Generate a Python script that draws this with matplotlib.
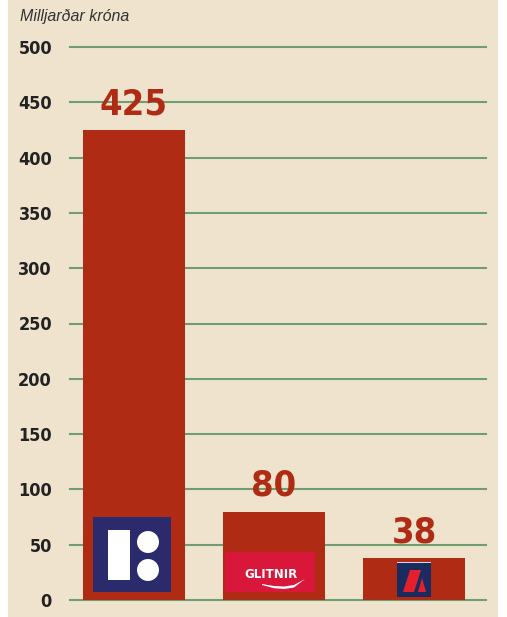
import matplotlib.pyplot as plt
from matplotlib.patches import Rectangle, Ellipse, Polygon

# Data
banks = ['Kaupþing', 'Glitnir', 'Landsbanki']
values = [425, 80, 38]
yticks = [0, 50, 100, 150, 200, 250, 300, 350, 400, 450, 500]
unit_label = 'Milljarðar króna'

BG = '#EFE3CE'
BAR = '#B02B14'
GRID = '#6F9E70'
NARROW = ['Liberation Sans Narrow', 'DejaVu Sans']

fig = plt.figure(figsize=(5.07, 6.17), dpi=100, facecolor='white')
# beige panel behind the chart
fig.patches.append(Rectangle((8 / 507, 0), 490 / 507, 1, transform=fig.transFigure,
                             facecolor=BG, edgecolor='none', zorder=-10))

ax = fig.add_axes([70 / 507, 17 / 617, 416 / 507, 553 / 617])
ax.set_facecolor('none')

x = list(range(len(values)))
ax.bar(x, values, width=0.73, color=BAR, zorder=3)
ax.set_xlim(-0.457, 2.514)
ax.set_ylim(0, 500)

for v in yticks:
    ax.axhline(v, color=GRID, linewidth=1.5, zorder=1, clip_on=False)

ax.set_yticks(yticks)
ax.set_yticklabels([str(t) for t in yticks], family=NARROW, fontweight='bold',
                   fontstretch='condensed', fontsize=13, color='#222222')
ax.tick_params(axis='y', length=0, pad=13)
ax.set_xticks([])
for s in ax.spines.values():
    s.set_visible(False)

# value labels above bars
for xi, v in zip(x, values):
    ax.text(xi, v + 8, str(v), ha='center', va='bottom', family=NARROW,
            fontweight='bold', fontstretch='condensed', fontsize=26, color=BAR, zorder=5)

fig.text(20 / 507, 1 - 17 / 617, unit_label, family=['Liberation Sans', 'DejaVu Sans'],
         style='italic', fontsize=11.5, color='#333333', va='center', ha='left')

# pixel offsets -> data units
px = 1 / 140
py = 500 / 553


def rect(cx, x0, x1, y0, y1, color, z=6):
    ax.add_patch(Rectangle((cx + x0 * px, y0 * py), (x1 - x0) * px, (y1 - y0) * py,
                           facecolor=color, edgecolor='none', zorder=z))


def poly(cx, pts, color, z=7):
    ax.add_patch(Polygon([(cx + a * px, b * py) for a, b in pts], closed=True,
                         facecolor=color, edgecolor='none', zorder=z))


# Kaupþing logo
c0 = x[0]
rect(c0, -41, 37, 8, 83, '#2A2A6C')
rect(c0, -26, -4, 20, 70, 'white', 7)
for cy in (58, 30):
    ax.add_patch(Ellipse((c0 + 14 * px, cy * py), 22 * px, 22 * py,
                         facecolor='white', edgecolor='none', zorder=7))

# Glitnir logo
c1 = x[1]
rect(c1, -49, 41, 8, 48, '#D8173B')
ax.text(c1 - 3 * px, 25 * py, 'GLITNIR', ha='center', va='center', color='white',
        fontsize=8.5, fontweight='bold', family=['DejaVu Sans'], zorder=8)
poly(c1, [(-12, 16), (0, 14), (10, 13.5), (20, 15), (31, 21),
          (20, 12.5), (10, 11), (0, 11.8), (-12, 15)], 'white', 8)

# Landsbanki logo
c2 = x[2]
rect(c2, -17, 17, 3, 38, '#D8D8E0')
rect(c2, -17, 17, 3, 37, '#1B2B60')
poly(c2, [(-11, 8), (-4, 30), (7, 30), (0, 8)], '#E5202E')
poly(c2, [(4, 8), (8, 22), (12, 8)], '#E5202E')

fig.savefig('out.png', dpi=100, facecolor='white')
